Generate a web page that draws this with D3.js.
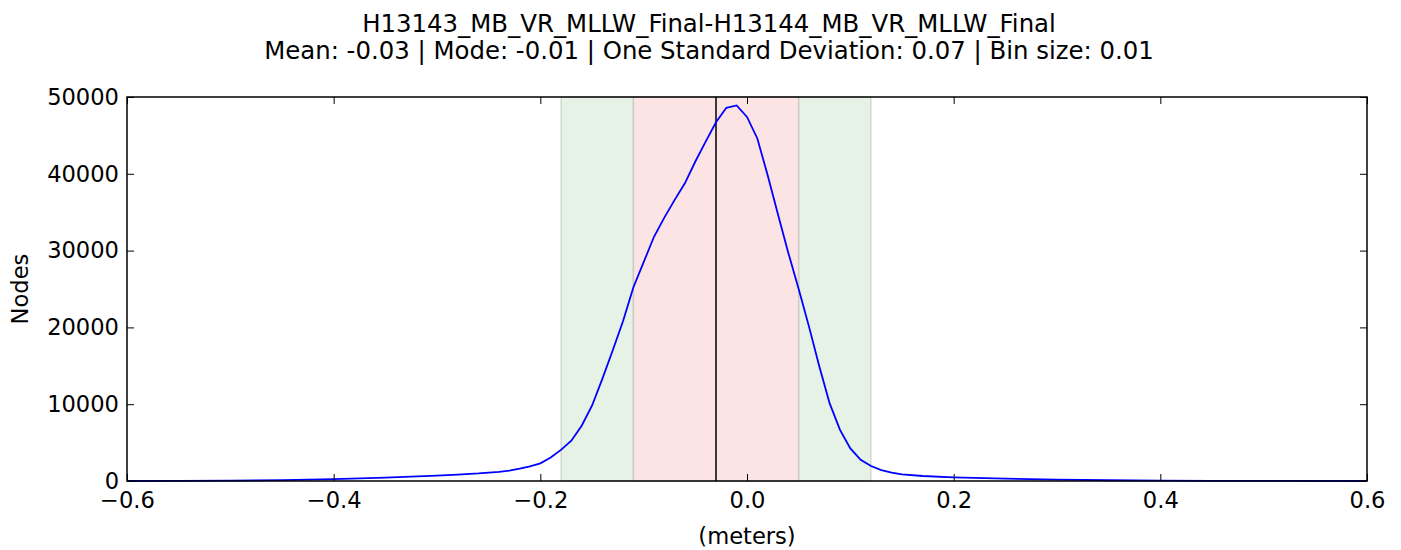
<!DOCTYPE html>
<html>
<head>
<meta charset="utf-8">
<script src="https://cdn.jsdelivr.net/npm/d3@7"></script>
<style>
  body { margin: 0; background: #fff; }
  svg text { font-family: "DejaVu Sans", sans-serif; fill: #000; }
</style>
</head>
<body>
<svg id="chart" width="1401" height="550"></svg>
<script>
// histogram of differences, bin size 0.01
const binCenters = [-0.60, -0.55, -0.50, -0.45, -0.40, -0.35, -0.30, -0.28, -0.26, -0.24,
    -0.23, -0.22, -0.21, -0.20, -0.19, -0.18, -0.17, -0.16, -0.15, -0.14,
    -0.13, -0.12, -0.11, -0.10, -0.09, -0.08, -0.07, -0.06, -0.05, -0.04,
    -0.03, -0.02, -0.01, 0.00, 0.01, 0.02, 0.03, 0.04, 0.05, 0.06,
    0.07, 0.08, 0.09, 0.10, 0.11, 0.12, 0.13, 0.14, 0.15, 0.17,
    0.20, 0.25, 0.30, 0.35, 0.40, 0.45, 0.50, 0.60];
const nodeCounts = [0, 10, 40, 110, 250, 430, 700, 820, 980, 1200,
    1350, 1600, 1900, 2300, 3050, 4050, 5250, 7200, 9800, 13300,
    17000, 20800, 25200, 28500, 31800, 34300, 36600, 38800, 41600, 44200,
    46700, 48600, 48900, 47400, 44600, 39800, 34700, 29700, 25000, 20100,
    14900, 10100, 6650, 4250, 2750, 1950, 1430, 1080, 870, 650,
    480, 300, 180, 100, 50, 20, 5, 0];

const meanValue = -0.03;
const twoSigmaBand = [-0.18, 0.12];
const oneSigmaBand = [-0.11, 0.05];

const xTicks = [-0.6, -0.4, -0.2, 0.0, 0.2, 0.4, 0.6];
const yTicks = [0, 10000, 20000, 30000, 40000, 50000];

const titleLines = [
    "H13143_MB_VR_MLLW_Final-H13144_MB_VR_MLLW_Final",
    "Mean: -0.03 | Mode: -0.01 | One Standard Deviation: 0.07 | Bin size: 0.01"
];

const margin = { top: 97, right: 34, bottom: 69, left: 127 };
const W = 1401, H = 550;
const width = W - margin.left - margin.right;
const height = H - margin.top - margin.bottom;
const tickFont = "22.6px";

const svg = d3.select("#chart");
const g = svg.append("g").attr("transform", `translate(${margin.left},${margin.top})`);

const x = d3.scaleLinear().domain([-0.6, 0.6]).range([0, width]);
const y = d3.scaleLinear().domain([0, 50000]).range([height, 0]);

// shaded bands
g.append("rect")
    .attr("x", x(twoSigmaBand[0]))
    .attr("y", 0)
    .attr("width", x(twoSigmaBand[1]) - x(twoSigmaBand[0]))
    .attr("height", height)
    .attr("fill", "rgba(0,128,0,0.1)")
    .attr("stroke", "rgba(0,0,0,0.12)")
    .attr("stroke-width", 1.5);

g.append("rect")
    .attr("x", x(oneSigmaBand[0]))
    .attr("y", 0)
    .attr("width", x(oneSigmaBand[1]) - x(oneSigmaBand[0]))
    .attr("height", height)
    .attr("fill", "#fde4e4")
    .attr("stroke", "rgba(0,0,0,0.15)")
    .attr("stroke-width", 1.5);

// mean line
g.append("line")
    .attr("x1", x(meanValue)).attr("x2", x(meanValue))
    .attr("y1", 0).attr("y2", height)
    .attr("stroke", "#000")
    .attr("stroke-width", 1.5);

// curve
const line = d3.line()
    .x((d, i) => x(binCenters[i]))
    .y(d => y(d));

g.append("path")
    .datum(nodeCounts)
    .attr("d", line)
    .attr("fill", "none")
    .attr("stroke", "#0000ff")
    .attr("stroke-width", 1.8);

// axes, matplotlib classic style: ticks inside, all four sides
const fmtX = d => d3.format(".1f")(d).replace("-", "\u2212");
const tickLen = 7;

const xAxisB = g.append("g")
    .attr("transform", `translate(0,${height})`)
    .call(d3.axisBottom(x).tickValues(xTicks).tickFormat(fmtX).tickSizeInner(-tickLen).tickSizeOuter(0).tickPadding(11));
const xAxisT = g.append("g")
    .call(d3.axisTop(x).tickValues(xTicks).tickFormat("").tickSizeInner(-tickLen).tickSizeOuter(0));
const yAxisL = g.append("g")
    .call(d3.axisLeft(y).tickValues(yTicks).tickFormat(d3.format("d")).tickSizeInner(-tickLen).tickSizeOuter(0).tickPadding(8));
const yAxisR = g.append("g")
    .attr("transform", `translate(${width},0)`)
    .call(d3.axisRight(y).tickValues(yTicks).tickFormat("").tickSizeInner(-tickLen).tickSizeOuter(0));

[xAxisB, xAxisT, yAxisL, yAxisR].forEach(a => {
    a.select(".domain").remove();
    a.selectAll(".tick line").attr("stroke", "#000").attr("stroke-width", 1);
    a.selectAll("text").style("font-family", "DejaVu Sans, sans-serif").style("font-size", tickFont).attr("fill", "#000");
});
xAxisB.selectAll("text").attr("dy", "0.71em");

// frame
g.append("rect")
    .attr("width", width)
    .attr("height", height)
    .attr("fill", "none")
    .attr("stroke", "#000")
    .attr("stroke-width", 1.5);

// labels
svg.append("text")
    .attr("x", margin.left + width / 2)
    .attr("y", 544)
    .attr("text-anchor", "middle")
    .style("font-size", tickFont)
    .text("(meters)");

svg.append("text")
    .attr("transform", `translate(28,${margin.top + height / 2}) rotate(-90)`)
    .attr("text-anchor", "middle")
    .style("font-size", tickFont)
    .text("Nodes");

// figure-level title, centred on the figure rather than the axes
svg.selectAll(".title")
    .data(titleLines)
    .join("text")
    .attr("class", "title")
    .attr("x", 709)
    .attr("y", (d, i) => 32 + i * 27)
    .attr("text-anchor", "middle")
    .style("font-size", "24.4px")
    .text(d => d);
</script>
</body>
</html>
